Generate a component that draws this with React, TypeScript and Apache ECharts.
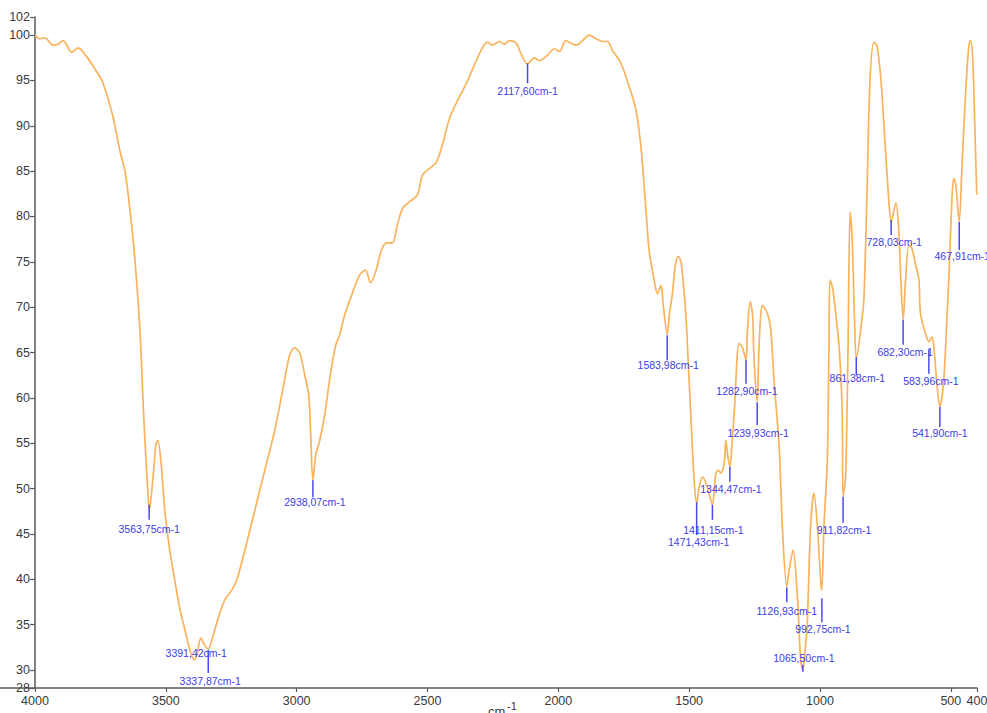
import React, { useEffect, useRef } from "react";
import * as echarts from "echarts";

// Spectrum (wavenumber cm-1, transmittance %)
const wavenumbers = [
  4000, 3981, 3962, 3931, 3912, 3893, 3859, 3836, 3802, 3763, 3740, 3702, 3676, 3656, 3637, 3618, 3599, 3584, 3569, 3563,
  3550, 3538, 3531, 3519, 3504, 3485, 3466, 3447, 3427, 3408, 3391, 3382, 3366, 3351, 3338, 3324, 3302, 3275, 3248, 3229,
  3198, 3160, 3122, 3084, 3053, 3027, 3008, 2989, 2969, 2954, 2947, 2938, 2927, 2912, 2893, 2874, 2851, 2836, 2817, 2790,
  2760, 2737, 2718, 2698, 2676, 2656, 2634, 2615, 2595, 2569, 2538, 2519, 2492, 2466, 2443, 2416, 2385, 2351, 2321, 2290,
  2271, 2252, 2225, 2206, 2187, 2160, 2145, 2118, 2092, 2073, 2041, 2015, 1996, 1971, 1952, 1932, 1907, 1882, 1856, 1831,
  1812, 1793, 1761, 1729, 1703, 1683, 1668, 1653, 1634, 1621, 1608, 1599, 1584, 1576, 1564, 1553, 1542, 1531, 1513, 1504,
  1494, 1481, 1471, 1462, 1449, 1431, 1420, 1411, 1398, 1388, 1379, 1366, 1360, 1353, 1344, 1338, 1328, 1309, 1297, 1283,
  1277, 1267, 1258, 1252, 1240, 1236, 1230, 1220, 1201, 1188, 1176, 1156, 1144, 1127, 1118, 1103, 1087, 1074, 1066, 1057,
  1049, 1036, 1023, 1010, 997, 993, 985, 972, 966, 962, 954, 947, 927, 915, 912, 902, 893, 885, 877, 868,
  861, 840, 832, 821, 809, 794, 782, 767, 752, 737, 728, 710, 699, 691, 682, 673, 660, 649, 634, 622,
  616, 597, 584, 572, 565, 552, 542, 527, 514, 508, 496, 489, 481, 468, 458, 443, 431, 424, 416, 408,
  401,
];
const transmittance = [
  100, 99.6, 99.7, 98.9, 99.0, 99.4, 98.1, 98.6, 97.6, 95.9, 94.7, 91.0, 87.3, 85.0, 80.7, 75.2, 67.5, 57.6, 49.8, 47.6,
  50.9, 54.8, 55.3, 53.1, 47.6, 43.2, 39.9, 36.8, 34.4, 32.2, 31.1, 31.6, 33.5, 32.7, 32.3, 33.3, 35.5, 37.7, 38.8, 39.9,
  43.2, 47.6, 52.0, 56.4, 60.9, 64.7, 65.5, 65.0, 62.5, 60.3, 56.4, 50.9, 53.7, 55.3, 58.1, 62.0, 65.8, 66.9, 69.1, 71.3,
  73.5, 74.1, 72.7, 73.9, 76.3, 77.1, 77.1, 79.1, 80.9, 81.6, 82.4, 84.6, 85.3, 86.0, 87.9, 90.8, 92.8, 94.7, 96.7, 98.6,
  99.2, 98.9, 99.3, 99.0, 99.4, 99.1, 98.1, 96.8, 97.5, 97.2, 97.8, 98.5, 98.2, 99.4, 99.1, 98.9, 99.4, 100, 99.6, 99.3,
  99.3, 98.3, 96.9, 94.3, 91.7, 87.3, 81.8, 76.3, 73.0, 71.5, 72.4, 70.2, 67.0, 69.1, 71.5, 74.6, 75.6, 75.0, 69.3, 64.2,
  58.3, 50.9, 48.4, 50.1, 51.3, 50.2, 49.0, 48.2, 51.7, 52.0, 51.7, 52.8, 55.3, 53.7, 52.4, 54.2, 58.3, 66.0, 65.6, 64.2,
  67.5, 70.6, 69.3, 64.2, 59.6, 63.0, 67.5, 70.2, 69.3, 67.5, 62.0, 54.6, 45.8, 39.2, 41.0, 43.2, 38.4, 31.1, 30.0, 32.2,
  34.8, 45.8, 49.5, 45.8, 39.6, 38.8, 45.8, 53.1, 65.3, 73.0, 72.4, 71.1, 65.6, 58.3, 49.1, 51.3, 65.3, 80.5, 77.4, 68.6,
  64.3, 68.6, 71.1, 81.8, 95.0, 99.2, 98.8, 95.0, 88.4, 81.8, 79.4, 81.5, 78.5, 73.0, 68.6, 73.0, 76.8, 76.5, 74.6, 73.0,
  69.3, 67.1, 66.2, 66.7, 65.6, 61.2, 59.0, 62.0, 69.3, 73.0, 81.8, 84.2, 83.5, 79.4, 85.1, 93.9, 98.9, 99.4, 97.2, 89.5,
  82.4,
];

// Peak annotations
const peakWavenumbers = [
  3563.75, 3391.42, 3337.87, 2938.07, 2117.6, 1583.98, 1471.43, 1411.15, 1344.47, 1282.9, 1239.93,
  1126.93, 1065.5, 992.75, 911.82, 861.38, 728.03, 682.3, 583.96, 541.9, 467.91,
];
const peakTransmittance = [
  48.2, 31.1, 32.2, 50.9, 96.9, 66.9, 48.5, 48.2, 52.4, 64.2, 59.5,
  39.1, 29.8, 37.9, 49.1, 64.5, 79.6, 68.6, 65.3, 59.0, 79.4,
];
const peakLabels = [
  "3563,75cm-1", "3391,42cm-1", "3337,87cm-1", "2938,07cm-1", "2117,60cm-1", "1583,98cm-1", "1471,43cm-1",
  "1411,15cm-1", "1344,47cm-1", "1282,90cm-1", "1239,93cm-1", "1126,93cm-1", "1065,50cm-1", "992,75cm-1",
  "911,82cm-1", "861,38cm-1", "728,03cm-1", "682,30cm-1", "583,96cm-1", "541,90cm-1", "467,91cm-1",
];

// Tick values
const yTicks = [28, 30, 35, 40, 45, 50, 55, 60, 65, 70, 75, 80, 85, 90, 95, 100, 102];
const xTicks = [4000, 3500, 3000, 2500, 2000, 1500, 1000, 500, 400];

// Pixel layout of annotation marks (line length, label offset)
const peakLayout = [
  { len: 15, dx: 0, dy: 24 },
  { len: 0, dx: 2, dy: -7 },
  { len: 23, dx: 2, dy: 31 },
  { len: 17, dx: 2, dy: 22 },
  { len: 20, dx: 0, dy: 28 },
  { len: 25, dx: 1, dy: 30 },
  { len: 33, dx: 2, dy: 40 },
  { len: 15, dx: 1, dy: 25 },
  { len: 15, dx: 1, dy: 22 },
  { len: 24, dx: 1, dy: 31 },
  { len: 23, dx: 1, dy: 31 },
  { len: 15, dx: 0, dy: 24 },
  { len: -7, dx: 1, dy: -14 },
  { len: 24, dx: 1, dy: 31 },
  { len: 26, dx: 1, dy: 33 },
  { len: 18, dx: 1, dy: 21 },
  { len: 15, dx: 3, dy: 22 },
  { len: 25, dx: 2, dy: 32 },
  { len: 24, dx: 2, dy: 31 },
  { len: 20, dx: 0, dy: 26 },
  { len: 28, dx: 3, dy: 34 },
];

const FONT = "'Liberation Sans', Arial, sans-serif";

export default function App() {
  const ref = useRef<HTMLDivElement>(null);
  useEffect(() => {
    if (!ref.current) return;
    const chart = echarts.init(ref.current, null, { renderer: "svg" });
    const lineData = wavenumbers.map((w, i) => [w, transmittance[i]]);
    const peakData = peakWavenumbers.map((w, i) => [w, peakTransmittance[i]]);
    const axisColor = "#5a5a5a";
    chart.setOption({
      animation: false,
      backgroundColor: "#ffffff",
      grid: { left: 35, right: 10, top: 17, bottom: 25, containLabel: false, outerBoundsMode: "none" },
      xAxis: {
        type: "value",
        inverse: true,
        min: 400,
        max: 4000,
        splitLine: { show: false },
        axisLine: { show: true, onZero: false, lineStyle: { color: axisColor, width: 1.5 } },
        axisTick: { show: true, length: 4, customValues: xTicks, lineStyle: { color: axisColor, width: 1.2 } },
        axisLabel: {
          customValues: xTicks,
          color: "#3a3a3a",
          fontSize: 12.5,
          fontFamily: FONT,
          margin: 6,
          formatter: (v: number) => String(v),
        },
      },
      yAxis: {
        type: "value",
        min: 28,
        max: 102,
        splitLine: { show: false },
        axisLine: { show: true, onZero: false, lineStyle: { color: axisColor, width: 1.5 } },
        axisTick: { show: true, length: 5, customValues: yTicks, lineStyle: { color: axisColor, width: 1.2 } },
        axisLabel: {
          customValues: yTicks,
          color: "#3a3a3a",
          fontSize: 12.5,
          fontFamily: FONT,
          margin: 5,
          formatter: (v: number) => String(v),
        },
      },
      graphic: [
        { type: "line", shape: { x1: 0, y1: 688, x2: 35, y2: 688 }, style: { stroke: axisColor, lineWidth: 1.5 } },
        {
          type: "text",
          x: 488,
          y: 705,
          style: { text: "cm", fill: "#3a3a3a", font: `13px ${FONT}` },
        },
        {
          type: "text",
          x: 507,
          y: 700,
          style: { text: "-1", fill: "#3a3a3a", font: `11px ${FONT}` },
        },
      ],
      series: [
        {
          type: "line",
          data: lineData,
          showSymbol: false,
          smooth: 0.3,
          lineStyle: { color: "#F9B35B", width: 1.7 },
          z: 2,
        },
        {
          type: "custom",
          data: peakData,
          clip: false,
          z: 3,
          renderItem: (params: any, api: any) => {
            const i = params.dataIndex;
            const p = api.coord([api.value(0), api.value(1)]);
            const s = peakLayout[i];
            return {
              type: "group",
              children: [
                {
                  type: "line",
                  shape: { x1: p[0], y1: p[1], x2: p[0], y2: p[1] + s.len },
                  style: { stroke: "#4a4af0", lineWidth: 1.5 },
                },
                {
                  type: "text",
                  x: p[0] + s.dx,
                  y: p[1] + s.dy,
                  style: {
                    text: peakLabels[i],
                    fill: "#3c3ceb",
                    font: `10.5px ${FONT}`,
                    align: "center",
                    verticalAlign: "middle",
                    textAlign: "center",
                    textVerticalAlign: "middle",
                  },
                },
              ],
            };
          },
        },
      ],
    });
    return () => chart.dispose();
  }, []);
  return (
    <div
      ref={ref}
      style={{ position: "absolute", left: 0, top: 0, width: 987, height: 713 }}
    />
  );
}
